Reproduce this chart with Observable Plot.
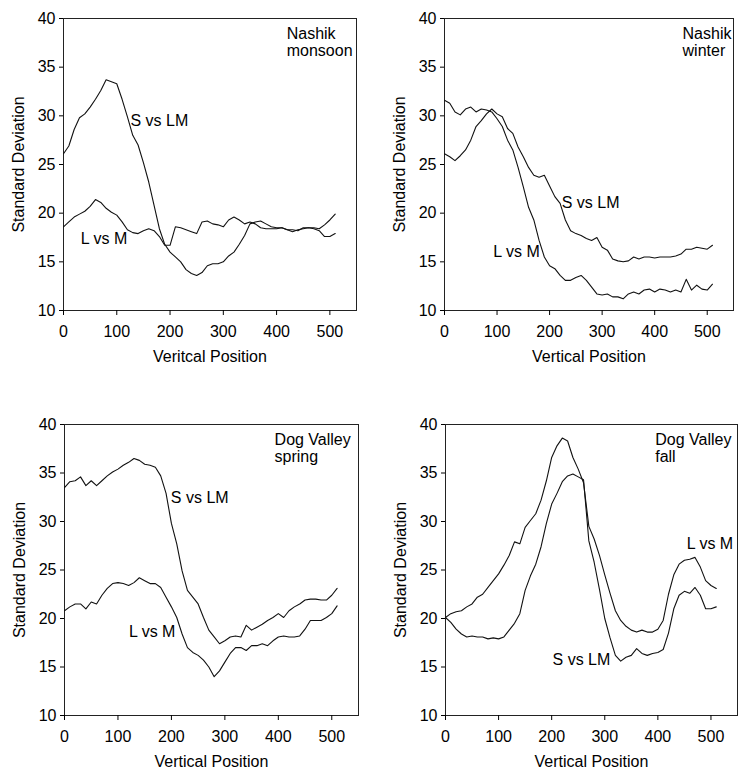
<!DOCTYPE html>
<html><head><meta charset="utf-8">
<script src="https://cdn.jsdelivr.net/npm/d3@7"></script>
<script src="https://cdn.jsdelivr.net/npm/@observablehq/plot@0.6"></script>
<style>
body{margin:0;background:#fff;}
#wrap{position:relative;width:750px;height:777px;background:#fff;}
#wrap svg{position:absolute;}
</style></head><body><div id="wrap"></div>
<script>
const positions = [0,10,20,30,40,50,60,70,80,90,100,110,120,130,140,150,160,170,180,190,200,210,220,230,240,250,260,270,280,290,300,310,320,330,340,350,360,370,380,390,400,410,420,430,440,450,460,470,480,490,500,510];
const xTicks = [0,100,200,300,400,500];
const yTicks = [10,15,20,25,30,35,40];
const seriesNames = ["S vs LM", "L vs M"];
const panelTitles = ["Nashik\nmonsoon", "Nashik\nwinter", "Dog Valley\nspring", "Dog Valley\nfall"];
const xLabels = ["Veritcal Position", "Vertical Position", "Vertical Position", "Vertical Position"];
const yLabel = "Standard Deviation";

const nashikMonsoonS = [26.1,26.9,28.6,29.8,30.2,30.9,31.7,32.6,33.7,33.5,33.3,31.7,29.9,28.0,27.0,25.2,23.2,20.8,18.4,16.8,16.0,15.5,15.0,14.2,13.8,13.6,13.9,14.6,14.8,14.8,15.0,15.6,16.0,16.8,17.7,18.9,19.1,19.2,18.9,18.6,18.5,18.5,18.3,18.1,18.3,18.4,18.5,18.4,18.2,17.6,17.6,17.9];
const nashikMonsoonL = [18.6,19.1,19.6,19.9,20.2,20.7,21.4,21.1,20.5,20.1,19.8,19.1,18.3,18.0,17.9,18.2,18.4,18.2,17.6,16.7,16.7,18.6,18.5,18.3,18.1,17.9,19.1,19.2,18.9,18.8,18.6,19.3,19.6,19.3,18.9,19.1,18.9,18.5,18.4,18.4,18.4,18.5,18.3,18.3,18.2,18.5,18.5,18.5,18.4,18.8,19.3,19.9];

const nashikWinterS = [26.1,25.8,25.4,25.9,26.5,27.5,28.9,29.5,30.2,30.7,30.2,29.9,28.7,28.2,26.8,25.8,24.7,23.9,23.7,23.9,22.8,21.7,21.0,19.3,18.2,17.9,17.7,17.4,17.2,17.5,16.5,16.2,15.3,15.1,15.0,15.1,15.5,15.3,15.5,15.5,15.4,15.5,15.5,15.5,15.6,15.8,16.3,16.3,16.5,16.4,16.3,16.7];
const nashikWinterL = [31.6,31.3,30.4,30.1,30.7,30.9,30.4,30.7,30.6,30.4,29.7,28.9,27.5,26.5,24.7,22.7,20.6,19.3,17.2,15.5,14.6,14.3,13.6,13.1,13.1,13.4,13.6,13.1,12.4,11.7,11.6,11.7,11.4,11.4,11.2,11.7,11.9,11.7,12.1,12.2,11.9,12.2,12.1,11.9,12.1,11.9,13.2,12.1,12.6,12.2,12.1,12.7];

const dogSpringS = [33.5,34.1,34.2,34.6,33.7,34.2,33.7,34.2,34.7,35.1,35.4,35.8,36.1,36.5,36.3,35.9,35.8,35.6,34.7,32.9,29.8,27.7,24.9,22.9,22.2,21.5,20.1,18.8,18.1,17.4,17.7,18.1,18.2,18.1,19.3,18.8,19.1,19.4,19.8,20.1,20.5,20.1,20.8,21.2,21.5,21.9,22.0,22.0,21.9,21.9,22.4,23.1];
const dogSpringL = [20.8,21.2,21.5,21.5,21.0,21.7,21.5,22.4,23.1,23.6,23.7,23.6,23.4,23.7,24.2,23.9,23.6,23.6,23.2,22.2,21.2,20.1,18.4,17.0,16.5,16.2,15.7,15.0,14.0,14.6,15.5,16.4,17.0,17.0,16.7,17.2,17.2,17.4,17.2,17.7,18.1,18.2,18.1,18.1,18.2,18.9,19.8,19.8,19.8,20.1,20.5,21.3];

const dogFallS = [20.1,19.6,18.9,18.4,18.1,18.2,18.1,18.1,17.9,18.0,17.9,18.1,18.8,19.5,20.5,22.9,24.4,25.6,27.4,29.8,31.8,32.9,34.1,34.7,34.9,34.6,34.3,28.0,25.8,23.0,20.0,18.0,16.2,15.6,16.0,16.2,16.9,16.4,16.2,16.4,16.5,16.8,18.5,21.0,22.4,22.8,22.6,23.2,22.4,21.0,21.0,21.2];
const dogFallL = [20.1,20.5,20.7,20.8,21.2,21.5,22.2,22.5,23.2,23.9,24.6,25.5,26.5,27.9,27.7,29.4,30.1,30.8,32.2,34.2,36.6,37.8,38.6,38.3,36.6,35.4,34.0,29.5,28.2,26.5,24.5,22.6,20.8,19.8,19.2,18.8,18.6,18.8,18.6,18.6,18.9,19.8,22.5,24.5,25.6,26.0,26.1,26.3,25.3,23.9,23.4,23.1];

const panels = [
  {s: nashikMonsoonS, l: nashikMonsoonL, left: 0, top: 0, h: 388, ml: 63, mr: 19, mt: 18, mb: 78,
   titleAt: [419, 39.2], sAt: [180, 29.5], lAt: [76, 17.4]},
  {s: nashikWinterS, l: nashikWinterL, left: 375, top: 0, h: 388, ml: 69, mr: 17, mt: 18, mb: 78,
   titleAt: [453, 39.2], sAt: [278, 21.1], lAt: [137, 16.0]},
  {s: dogSpringS, l: dogSpringL, left: 0, top: 388, h: 389, ml: 64, mr: 17, mt: 36, mb: 62,
   titleAt: [393, 39.2], sAt: [253, 32.4], lAt: [164, 18.6]},
  {s: dogFallS, l: dogFallL, left: 375, top: 388, h: 389, ml: 70, mr: 13, mt: 36, mb: 62,
   titleAt: [395, 39.2], sAt: [256, 15.7], lAt: [498, 27.7]}
];

const wrap = document.getElementById("wrap");
panels.forEach((p, k) => {
  const rows = [];
  positions.forEach((x, i) => rows.push({x, sd: p.s[i], series: seriesNames[0]}));
  positions.forEach((x, i) => rows.push({x, sd: p.l[i], series: seriesNames[1]}));
  const chart = Plot.plot({
    width: 375, height: p.h,
    marginLeft: p.ml, marginRight: p.mr, marginTop: p.mt, marginBottom: p.mb,
    style: {fontFamily: "'Liberation Sans', Arial, sans-serif", fontSize: "16px", color: "#000", background: "#fff", overflow: "visible"},
    x: {domain: [0, 550]},
    y: {domain: [10, 40]},
    marks: [
      Plot.frame({stroke: "#222", strokeWidth: 1}),
      Plot.axisX({ticks: xTicks, tickSize: 5, tickPadding: 10, tickFormat: d => String(d), label: xLabels[k], labelAnchor: "center", labelOffset: 51, labelArrow: "none", fontSize: 16}),
      Plot.axisY({ticks: yTicks, tickSize: 4, tickPadding: 4, tickFormat: d => String(d), label: yLabel, labelAnchor: "center", labelOffset: 51, labelArrow: "none", fontSize: 16}),
      Plot.line(rows, {x: "x", y: "sd", z: "series", stroke: "#111", strokeWidth: 1.1}),
      Plot.text([panelTitles[k]], {x: p.titleAt[0], y: p.titleAt[1], text: d => d, textAnchor: "start", lineAnchor: "top", fontSize: 16, lineHeight: 1.08, fill: "#000"}),
      Plot.text([seriesNames[0]], {x: p.sAt[0], y: p.sAt[1], text: d => d, textAnchor: "middle", lineAnchor: "middle", fontSize: 16, fill: "#000"}),
      Plot.text([seriesNames[1]], {x: p.lAt[0], y: p.lAt[1], text: d => d, textAnchor: "middle", lineAnchor: "middle", fontSize: 16, fill: "#000"})
    ]
  });
  chart.style.left = p.left + "px";
  chart.style.top = p.top + "px";
  wrap.appendChild(chart);
});
</script>
</body></html>
